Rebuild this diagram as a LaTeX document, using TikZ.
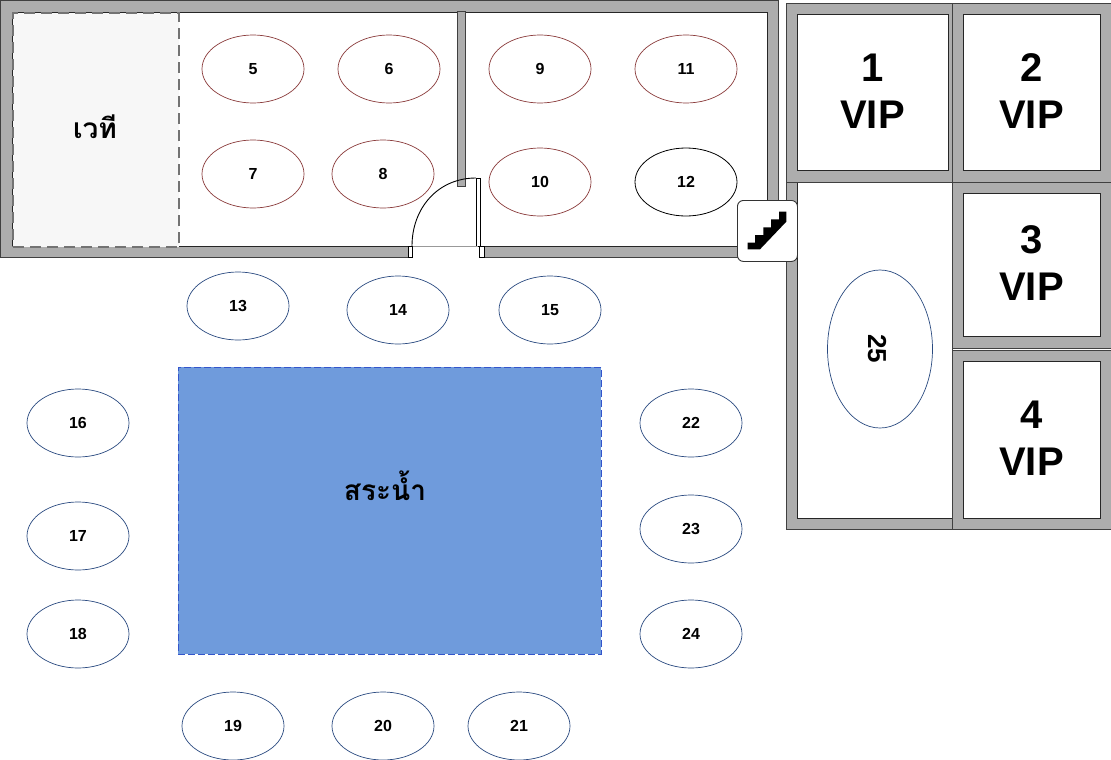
\documentclass[tikz,border=0pt]{standalone}
\usepackage{fontspec}
\setmainfont{Liberation Sans}
\newfontfamily\thaifont[Script=Thai]{Loma}
\usetikzlibrary{shapes.geometric}
\definecolor{wallc}{HTML}{ADADAD}
\definecolor{wallline}{HTML}{404040}
\definecolor{redline}{HTML}{8A3B3B}
\definecolor{blueline}{HTML}{2A4A80}
\definecolor{poolc}{HTML}{6F9BDC}
\definecolor{poolline}{HTML}{3355CC}
\definecolor{stagec}{HTML}{F7F7F7}
\tikzset{
  wallpart/.style={fill=wallc,draw=wallline,line width=0.9pt},
  roomfloor/.style={fill=white,draw=black!85,line width=0.9pt},
  tablebase/.style={ellipse,minimum width=102pt,minimum height=68pt,inner sep=0pt,outer sep=0pt,fill=white,font=\bfseries\fontsize{16}{18}\selectfont},
  redtable/.style={tablebase,draw=redline,line width=0.7pt},
  bluetable/.style={tablebase,draw=blueline,line width=0.7pt},
  blacktable/.style={tablebase,draw=black,line width=0.8pt},
  viproom/.style={rectangle,fill=white,draw=black!85,line width=0.9pt,inner sep=0pt,outer sep=0pt,align=center,font=\bfseries\fontsize{40}{47}\selectfont},
  thailabel/.style={font=\thaifont\bfseries\fontsize{28}{32}\selectfont}
}
\begin{document}
\begin{tikzpicture}[x=1pt,y=-1pt]
\useasboundingbox (0,0) rectangle (1111,760);
% main building
\draw[wallpart] (0,0.5) rectangle (778,257.5);
\fill[white] (408.5,245) rectangle (483.5,259);
\draw[roomfloor] (12,12) rectangle (458,246);
\draw[roomfloor] (465,12) rectangle (767,246);
\fill[white] (457,186) rectangle (466,245.5);
\fill[white] (409,244) rectangle (483,245.6);
\node[wallpart,rectangle,inner sep=0pt,outer sep=0pt,minimum width=8pt,minimum height=175pt,anchor=north] (partition) at (461.5,11) {};
% stage
\node[rectangle,fill=stagec,draw=black!55,dashed,dash pattern=on 11pt off 6pt,line width=2pt,inner sep=0pt,minimum width=166pt,minimum height=234pt,anchor=north west] (stage) at (12,12) {};
\node[thailabel] (stagelabel) at (95,127) {เวที};
% door
\coordinate (doorL) at (412,246);
\coordinate (doorR) at (478,246);
\coordinate (leafTop) at (476,178);
\node[rectangle,fill=white,draw=black,line width=0.8pt,inner sep=0pt,minimum width=4pt,minimum height=68pt,anchor=north west] (leaf) at (476,178) {};
\draw[black!40,line width=0.5pt] (doorL) -- (doorR);
\draw[black,line width=0.9pt] (doorL) .. controls (412,208) and (438,178) .. (leafTop);
\node[rectangle,fill=white,draw=black,line width=0.7pt,inner sep=0pt,minimum width=4pt,minimum height=11pt,anchor=north west] (jambL) at (408,246) {};
\node[rectangle,fill=white,draw=black,line width=0.7pt,inner sep=0pt,minimum width=5pt,minimum height=11pt,anchor=north west] (jambR) at (479,246) {};
% right block
\draw[wallpart] (786,3) rectangle (952,182);
\draw[wallpart] (952,3) rectangle (1111,182);
\draw[wallpart] (786,182) rectangle (952,529);
\draw[wallpart] (952,182) rectangle (1111,348);
\draw[wallpart] (952,350) rectangle (1111,529);
\node[viproom,minimum width=151pt,minimum height=156pt,anchor=north west] (room1) at (797,14) {\raisebox{2pt}{1}\\\raisebox{2pt}{VIP}};
\node[viproom,minimum width=137pt,minimum height=156pt,anchor=north west] (room2) at (963,14) {\raisebox{2pt}{2}\\\raisebox{2pt}{VIP}};
\node[viproom,minimum width=137pt,minimum height=143pt,anchor=north west] (room3) at (963,193) {\raisebox{2pt}{3}\\\raisebox{2pt}{VIP}};
\node[viproom,minimum width=137pt,minimum height=157pt,anchor=north west] (room4) at (963,361) {\raisebox{2pt}{4}\\\raisebox{2pt}{VIP}};
\fill[white] (797,182.5) rectangle (951.5,518);
\draw[black!85,line width=0.9pt] (797,182.5) -- (797,518) -- (951.5,518);
\draw[wallline,line width=0.9pt] (797,182) -- (952,182) -- (952,518);
% stair
\node[rectangle,rounded corners=6pt,fill=white,draw=black!80,line width=0.9pt,inner sep=0pt,minimum width=60pt,minimum height=61pt,anchor=north west] (stair) at (737,200) {};
\fill[black] (747.7,249.3) -- (747.7,242.7) -- (755,242.7) -- (755,235) -- (763.3,235) -- (763.3,227.3) -- (771,227.3) -- (771,219.3) -- (779,219.3) -- (779,211.7) -- (786.3,211.7) -- (786.3,221.7) -- (760,249.3) -- cycle;
% pool
\node[rectangle,fill=poolc,draw=poolline,dashed,dash pattern=on 7pt off 3pt,line width=0.9pt,inner sep=0pt,minimum width=423pt,minimum height=287pt,anchor=north west] (pool) at (178,367) {};
\node[thailabel] (poollabel) at (385,486) {สระน้ำ};
% tables
\node[redtable] (t5) at (253,69) {5};
\node[redtable] (t6) at (389,69) {6};
\node[redtable] (t7) at (253,174) {7};
\node[redtable] (t8) at (383,174) {8};
\node[redtable] (t9) at (540,69) {9};
\node[redtable] (t10) at (540,182) {10};
\node[redtable] (t11) at (686,69) {11};
\node[blacktable] (t12) at (686,182) {12};
\node[bluetable] (t13) at (238,306) {13};
\node[bluetable] (t14) at (398,310) {14};
\node[bluetable] (t15) at (550,310) {15};
\node[bluetable] (t16) at (78,423) {16};
\node[bluetable] (t17) at (78,536) {17};
\node[bluetable] (t18) at (78,634) {18};
\node[bluetable] (t19) at (233,726) {19};
\node[bluetable] (t20) at (383,726) {20};
\node[bluetable] (t21) at (519,726) {21};
\node[bluetable] (t22) at (691,423) {22};
\node[bluetable] (t23) at (691,529) {23};
\node[bluetable] (t24) at (691,634) {24};
\node[bluetable,minimum width=105pt,minimum height=158pt] (t25) at (880,349) {};
\node[rotate=-90,font=\bfseries\fontsize{26}{28}\selectfont] (t25label) at (877,349) {25};
\end{tikzpicture}
\end{document}
